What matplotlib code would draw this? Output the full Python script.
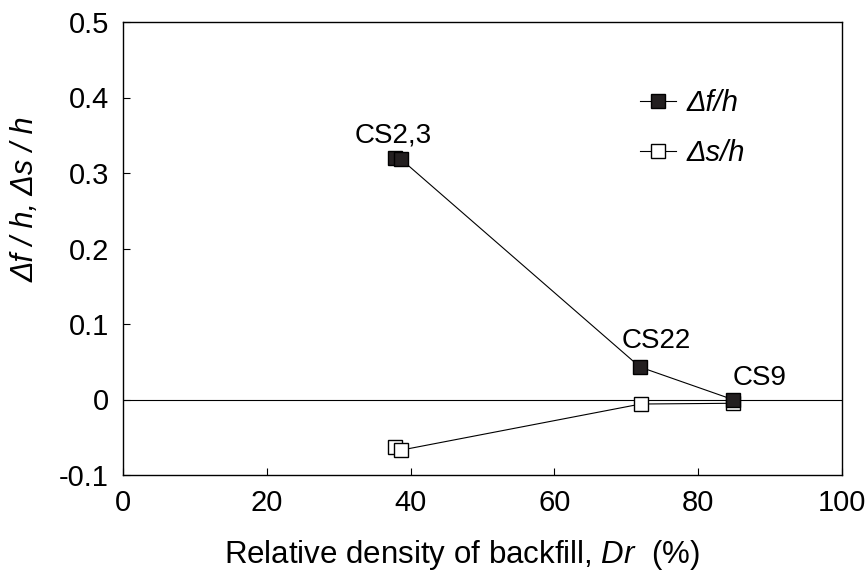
import matplotlib
matplotlib.use("Agg")
import matplotlib.pyplot as plt

plt.rcParams['font.family'] = ['Liberation Sans', 'DejaVu Sans']
plt.rcParams['mathtext.fontset'] = 'custom'
plt.rcParams['mathtext.rm'] = 'Liberation Sans'
plt.rcParams['mathtext.it'] = 'Liberation Sans:italic'

dr_f = [37.8, 38.7, 71.9, 84.8]
df_h = [0.320, 0.318, 0.043, 0.0]
dr_s = [37.8, 38.7, 72.0, 84.8]
ds_h = [-0.063, -0.067, -0.006, -0.005]
labels = ["CS2,3", "CS22", "CS9"]
label_pos = [(37.6, 0.350), (74.2, 0.077), (88.6, 0.029)]
xticks = [0, 20, 40, 60, 80, 100]
yticks = [-0.1, 0, 0.1, 0.2, 0.3, 0.4, 0.5]
ytick_labels = ["-0.1", "0", "0.1", "0.2", "0.3", "0.4", "0.5"]

fig = plt.figure(figsize=(8.67, 5.83), dpi=100)
ax = fig.add_axes([123/867, 1-475/583, (842-123)/867, (475-22)/583])

ax.axhline(0, color='black', lw=0.8, zorder=1)
ax.plot(dr_f, df_h, '-s', color='black', lw=0.8, ms=10, mfc='#231f20', mec='black',
        label='Δf/h', zorder=3)
ax.plot(dr_s, ds_h, '-s', color='black', lw=0.8, ms=10, mfc='white', mec='black',
        mew=1.0, label='Δs/h', zorder=2)

for t, (x, y) in zip(labels, label_pos):
    ax.text(x, y, t, fontsize=20, ha='center', va='center')

ax.set_xlim(0, 100)
ax.set_ylim(-0.1, 0.5)
ax.set_xticks(xticks)
ax.set_yticks(yticks)
ax.set_yticklabels(ytick_labels)
ax.tick_params(direction='in', labelsize=21, length=5, width=0.8, pad=10)
for s in ax.spines.values():
    s.set_linewidth(1.0)

ax.set_xlabel(r'Relative density of backfill, $Dr$  (%)', fontsize=22.5)
ax.xaxis.set_label_coords(0.471, -0.14)
ax.set_ylabel('Δf / h, Δs / h', fontsize=22, fontstyle='italic', va='center')
ax.yaxis.set_label_coords(-0.136, 0.609)

leg = ax.legend(loc='upper left', bbox_to_anchor=(0.682, 0.91), frameon=False,
                prop={'size': 21, 'style': 'italic'}, handlelength=1.25,
                handletextpad=0.35, labelspacing=0.75)

fig.savefig("out.png", dpi=100)
